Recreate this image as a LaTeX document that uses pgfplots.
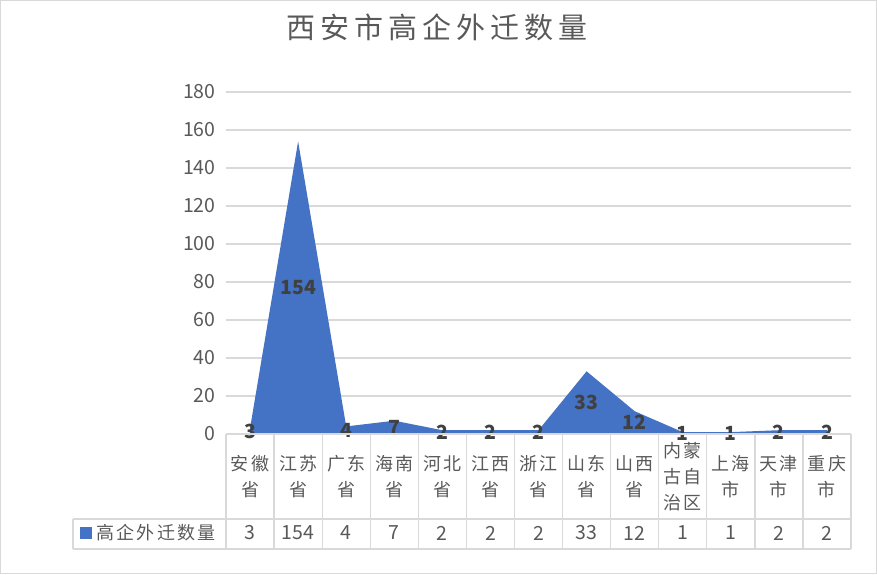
\documentclass[border=0pt]{standalone}
\usepackage{pgfplots}
\pgfplotsset{compat=1.18}
\usepackage{pgfplotstable}
\usepackage{fontspec}
\setmainfont{Noto Sans CJK SC}
\newfontfamily\cjk[LetterSpace=12]{Noto Sans CJK SC}
\newfontfamily\cjktitle[LetterSpace=17]{Noto Sans CJK SC}
\definecolor{areablue}{HTML}{4472C4}
\definecolor{gridc}{HTML}{D9D9D9}
\definecolor{txt}{HTML}{595959}
\definecolor{lbl}{HTML}{404040}

% 高企外迁数量
\pgfplotstableread{
x y
0 3
1 154
2 4
3 7
4 2
5 2
6 2
7 33
8 12
9 1
10 1
11 2
12 2
}\movetable

\begin{document}
\begin{tikzpicture}
\useasboundingbox (0pt,0pt) rectangle (877pt,-574pt);
\draw[gridc, line width=1.2pt] (0.6pt,-0.6pt) rectangle (876.4pt,-573.4pt);
\begin{axis}[
  at={(226pt,-434pt)}, anchor=south west,
  scale only axis, width=625pt, height=342pt,
  xmin=-0.5, xmax=12.5, ymin=0, ymax=180,
  clip=false,
  axis line style={draw=none},
  major tick length=0pt,
  ytick={0,20,...,180},
  ymajorgrids, grid style={gridc, line width=1.3pt},
  /pgf/number format/assume math mode=true,
  yticklabel style={font=\fontsize{19.5}{22}\selectfont, text=txt, xshift=-7pt},
  xtick={0,...,12},
  xticklabels={安徽\\省,江苏\\省,广东\\省,海南\\省,河北\\省,江西\\省,浙江\\省,山东\\省,山西\\省,内蒙\\古自\\治区,上海\\市,天津\\市,重庆\\市},
  xticklabel style={anchor=center, yshift=-42.5pt, align=center, font=\cjk\fontsize{18}{26}\selectfont, text=txt},
  extra x ticks={0,...,12},
  extra x tick labels={3,154,4,7,2,2,2,33,12,1,1,2,2},
  extra x tick style={xticklabel style={yshift=-56.5pt, font=\fontsize{19.5}{22}\selectfont}},
  title={西安市高企外迁数量},
  title style={at={(axis description cs:0.3376,1.1725)}, anchor=center, font=\cjktitle\fontsize{29}{34}\selectfont, text=txt},
  legend style={at={(axis description cs:-0.2336,-0.2895)}, anchor=west, draw=none, fill=none, inner sep=0pt, font=\cjk\fontsize{18}{22}\selectfont, text=txt},
  legend image code/.code={\fill[areablue] (0pt,-5.7pt) rectangle (11.4pt,5.7pt);},
  /tikz/every even column/.style={column sep=0pt},
  legend cell align=left,
]
\addplot[fill=areablue, draw=none] table[x=x, y=y] {\movetable} \closedcycle;
\addlegendentry{\hspace*{3pt}高企外迁数量}
\addplot[draw=none, mark=none, forget plot, nodes near coords, point meta=explicit,
  nodes near coords style={anchor=center, font=\bfseries\fontsize{19.5}{22}\selectfont, text=lbl}]
  table[x=x, y expr=\thisrow{y}/2, meta=y] {\movetable};
\end{axis}
\foreach \k in {0,...,13} {
  \pgfmathsetmacro{\xx}{226+\k*625/13}
  \draw[gridc, line width=1.3pt] (\xx pt,-434pt) -- (\xx pt,-549pt);
}
\draw[gridc, line width=1.3pt] (226pt,-434pt) -- (851pt,-434pt);
\draw[gridc, line width=1.3pt] (73pt,-519pt) -- (851pt,-519pt);
\draw[gridc, line width=1.3pt] (73pt,-549pt) -- (851pt,-549pt);
\draw[gridc, line width=1.3pt] (73pt,-519pt) -- (73pt,-549pt);
\end{tikzpicture}
\end{document}
